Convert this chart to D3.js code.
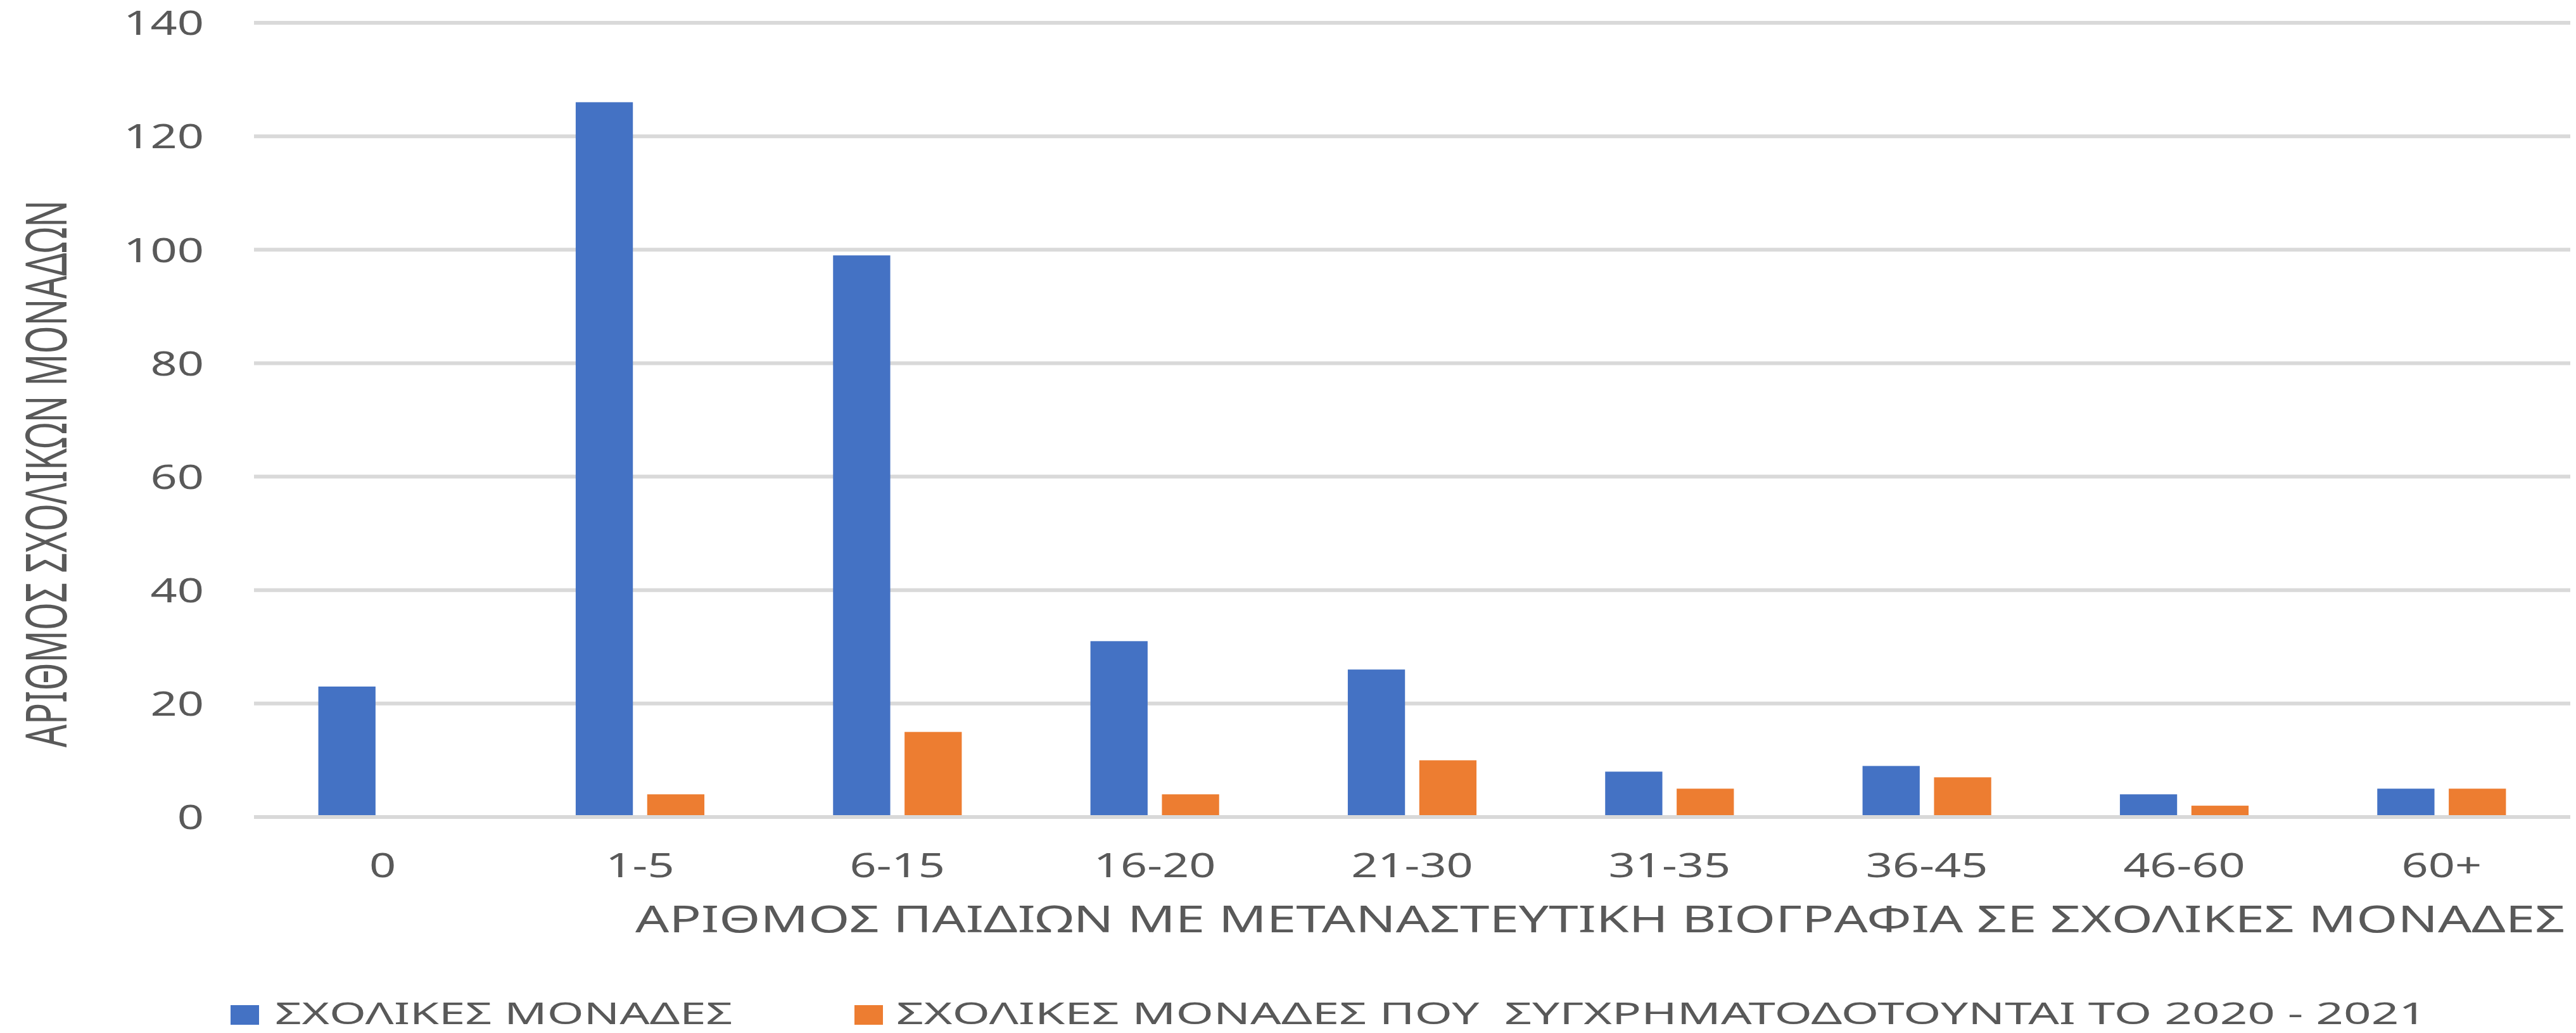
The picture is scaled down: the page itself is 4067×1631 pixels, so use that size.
<!DOCTYPE html>
<html>
<head>
<meta charset="utf-8">
<script src="https://cdn.jsdelivr.net/npm/d3@7"></script>
<style>
  body { margin: 0; background: #fff; }
  text { font-family: "Noto Sans", "Open Sans", "DejaVu Sans", sans-serif; fill: #595959; }
</style>
</head>
<body>
<div id="chart"></div>
<script>
// data
const categories = ["0", "1-5", "6-15", "16-20", "21-30", "31-35", "36-45", "46-60", "60+"];
const schools = [23, 126, 99, 31, 26, 8, 9, 4, 5];
const funded = [0, 4, 15, 4, 10, 5, 7, 2, 5];
const seriesNames = ["ΣΧΟΛΙΚΕΣ ΜΟΝΑΔΕΣ", "ΣΧΟΛΙΚΕΣ ΜΟΝΑΔΕΣ ΠΟΥ  ΣΥΓΧΡΗΜΑΤΟΔΟΤΟΥΝΤΑΙ ΤΟ 2020 - 2021"];
const yTicks = [0, 20, 40, 60, 80, 100, 120, 140];
const xTitle = "ΑΡΙΘΜΟΣ ΠΑΙΔΙΩΝ ΜΕ ΜΕΤΑΝΑΣΤΕΥΤΙΚΗ ΒΙΟΓΡΑΦΙΑ ΣΕ ΣΧΟΛΙΚΕΣ ΜΟΝΑΔΕΣ";
const yTitle = "ΑΡΙΘΜΟΣ ΣΧΟΛΙΚΩΝ ΜΟΝΑΔΩΝ";

const width = 4067;
const height = 1631;
const colors = ["#4472C4", "#ED7D31"];
const SX = 1.42; // text in the picture is stretched sideways

const plot = { left: 401, right: 4058, top: 36, bottom: 1290 };

const svg = d3.select("#chart")
    .append("svg")
    .attr("width", width)
    .attr("height", height);

const x = d3.scaleBand()
    .domain(categories)
    .range([plot.left, plot.right])
    .paddingInner(0.5)
    .paddingOuter(0.25);

const x1 = d3.scaleBand()
    .domain([0, 1])
    .range([0, x.bandwidth()])
    .paddingInner(0.2);

const y = d3.scaleLinear()
    .domain([0, 140])
    .range([plot.bottom, plot.top]);

// gridlines (all but zero, which goes on top of the bars)
svg.append("g")
    .selectAll("line")
    .data(yTicks.filter(d => d > 0))
    .join("line")
    .attr("x1", plot.left)
    .attr("x2", plot.right)
    .attr("y1", d => y(d))
    .attr("y2", d => y(d))
    .attr("stroke", "#D9D9D9")
    .attr("stroke-width", 6);

// bars
const rows = categories.map((c, i) => ({ cat: c, vals: [schools[i], funded[i]] }));

svg.append("g")
    .selectAll("g")
    .data(rows)
    .join("g")
    .attr("transform", d => `translate(${x(d.cat)},0)`)
    .selectAll("rect")
    .data(d => d.vals.map((v, k) => ({ k, v })))
    .join("rect")
    .attr("x", d => x1(d.k))
    .attr("width", x1.bandwidth())
    .attr("y", d => y(d.v))
    .attr("height", d => y(0) - y(d.v))
    .attr("fill", d => colors[d.k]);

// zero line
svg.append("line")
    .attr("x1", plot.left)
    .attr("x2", plot.right)
    .attr("y1", y(0))
    .attr("y2", y(0))
    .attr("stroke", "#D9D9D9")
    .attr("stroke-width", 6);

// y axis labels
const yAxis = d3.axisLeft(y).tickValues(yTicks).tickSize(0).tickPadding(0);
const gy = svg.append("g")
    .attr("transform", `translate(322,0)`)
    .call(yAxis);
gy.select(".domain").remove();
gy.selectAll("text")
    .attr("x", 0)
    .attr("dy", "0.36em")
    .attr("transform", `scale(${SX},1)`)
    .style("font-size", "52px")
    .style("fill", "#595959");

// x axis labels
const xAxis = d3.axisBottom(x).tickSize(0).tickPadding(0);
const gx = svg.append("g")
    .attr("transform", `translate(0,${plot.bottom})`)
    .call(xAxis);
gx.select(".domain").remove();
gx.selectAll("text")
    .attr("y", 0)
    .attr("dy", 0)
    .attr("transform", `translate(0,95) scale(${SX},1)`)
    .style("font-size", "52px")
    .style("fill", "#595959");

// axis titles
svg.append("text")
    .attr("x", 1003)
    .attr("y", 1472)
    .attr("textLength", 3047)
    .attr("lengthAdjust", "spacingAndGlyphs")
    .style("font-size", "58px")
    .text(xTitle);

svg.append("text")
    .attr("transform", `translate(105,748) scale(1.5,1) rotate(-90)`)
    .attr("text-anchor", "middle")
    .attr("textLength", 864)
    .attr("lengthAdjust", "spacingAndGlyphs")
    .style("font-size", "60px")
    .text(yTitle);

// legend
const legendPos = [
    { sq: 364, tx: 434, len: 723 },
    { sq: 1349, tx: 1415, len: 2416 }
];
const legend = svg.append("g");
seriesNames.forEach((name, i) => {
    legend.append("rect")
        .attr("x", legendPos[i].sq)
        .attr("y", 1587)
        .attr("width", 45)
        .attr("height", 31)
        .attr("fill", colors[i]);
    legend.append("text")
        .attr("x", legendPos[i].tx)
        .attr("y", 1617)
        .attr("textLength", legendPos[i].len)
        .attr("lengthAdjust", "spacingAndGlyphs")
        .attr("xml:space", "preserve")
        .style("white-space", "pre")
        .style("font-size", "48px")
        .text(name);
});
</script>
</body>
</html>
